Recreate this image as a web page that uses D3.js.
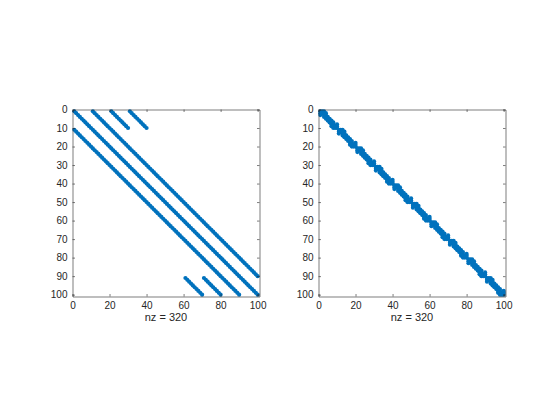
<!DOCTYPE html>
<html>
<head>
<meta charset="utf-8">
<script src="https://cdn.jsdelivr.net/npm/d3@7"></script>
<style>
body { margin: 0; background: #fff; }
text { font-family: "Liberation Sans", Arial, Helvetica, sans-serif; }
</style>
</head>
<body>
<div id="chart"></div>
<script>
var w = 560;
var h = 420;
var n = 100;

// left matrix: diagonal segments, offset = col - row, rows are 1-based
var diagOffsets = [0, 10, -10, 20, 30, -30, -20];
var diagFirstRow = [1, 1, 11, 1, 1, 91, 91];
var diagLastRow = [100, 90, 100, 10, 10, 100, 100];

// right matrix: rows/cols of the left one, reordered
var perm = [
  81, 91, 71, 61, 51, 41, 31, 21, 1, 11,
  82, 92, 72, 62, 52, 42, 32, 22, 2, 12,
  83, 93, 73, 63, 53, 43, 33, 23, 3, 13,
  84, 94, 74, 64, 54, 44, 34, 24, 4, 14,
  85, 95, 75, 65, 55, 45, 35, 25, 5, 15,
  86, 96, 76, 66, 56, 46, 36, 26, 6, 16,
  87, 97, 77, 67, 57, 47, 37, 27, 7, 17,
  88, 98, 78, 68, 58, 48, 38, 28, 8, 18,
  89, 99, 79, 69, 59, 49, 39, 29, 9, 19,
  90, 100, 80, 70, 60, 50, 40, 30, 10, 20
];

var xTicks = [0, 20, 40, 60, 80, 100];
var yTicks = [0, 10, 20, 30, 40, 50, 60, 70, 80, 90, 100];
var xLabel = "nz = 320";

// build nonzeros
var nzLeft = [];
for (var k = 0; k < diagOffsets.length; k++) {
  for (var r = diagFirstRow[k]; r <= diagLastRow[k]; r++) {
    nzLeft.push({row: r, col: r + diagOffsets[k]});
  }
}
var inv = [];
perm.forEach(function(p, i) { inv[p] = i + 1; });
var nzRight = nzLeft.map(function(d) {
  return {row: inv[d.row], col: inv[d.col]};
});

var size = 187;
var panels = [
  {x: 72.5, y: 109.5, data: nzLeft},
  {x: 318.5, y: 109.5, data: nzRight}
];

var svg = d3.select("#chart")
  .append("svg")
  .attr("width", w)
  .attr("height", h);

var xScale = d3.scaleLinear().domain([0, n + 1]).range([0, size]);
var yScale = d3.scaleLinear().domain([0, n + 1]).range([0, size]);

panels.forEach(function(p) {
  var g = svg.append("g")
    .attr("transform", "translate(" + p.x + "," + p.y + ")");

  g.append("rect")
    .attr("width", size)
    .attr("height", size)
    .attr("fill", "#fff");

  g.selectAll("circle")
    .data(p.data)
    .enter()
    .append("circle")
    .attr("cx", function(d) { return xScale(d.col); })
    .attr("cy", function(d) { return yScale(d.row); })
    .attr("r", 2.1)
    .attr("fill", "#0072BD");

  var xAxis = d3.axisBottom(xScale).tickValues(xTicks).tickSizeInner(-2.5).tickSizeOuter(0).tickPadding(5);
  var xAxisTop = d3.axisTop(xScale).tickValues(xTicks).tickSizeInner(-2.5).tickSizeOuter(0).tickFormat("");
  var yAxis = d3.axisLeft(yScale).tickValues(yTicks).tickSizeInner(-2.5).tickSizeOuter(0).tickPadding(5);
  var yAxisRight = d3.axisRight(yScale).tickValues(yTicks).tickSizeInner(-2.5).tickSizeOuter(0).tickFormat("");

  g.append("g").attr("transform", "translate(0," + size + ")").call(xAxis);
  g.append("g").call(xAxisTop);
  g.append("g").call(yAxis);
  g.append("g").attr("transform", "translate(" + size + ",0)").call(yAxisRight);

  g.selectAll(".domain").attr("stroke", "#262626").attr("stroke-width", 0.6);
  g.selectAll(".tick line").attr("stroke", "#262626").attr("stroke-width", 0.6);
  g.selectAll(".tick text")
    .attr("fill", "#262626")
    .style("font-size", "10px");

  g.append("text")
    .attr("x", size / 2)
    .attr("y", size + 24)
    .attr("text-anchor", "middle")
    .attr("fill", "#262626")
    .style("font-size", "11px")
    .text(xLabel);
});
</script>
</body>
</html>
